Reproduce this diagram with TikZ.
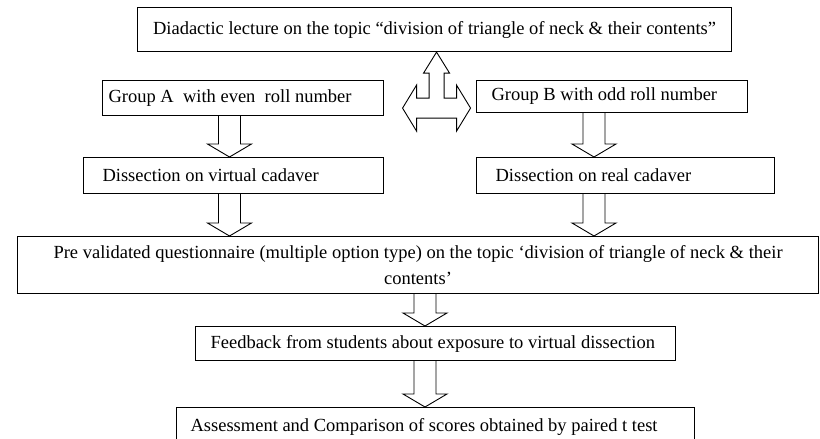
\documentclass[tikz,border=0pt]{standalone}
\usepackage{fontspec}
\setmainfont{Liberation Serif}
\usetikzlibrary{calc}

% hollow block arrow straight down: #1 = column, #2 = from node, #3 = to node
\newcommand{\hollowarrow}[3]{%
  \coordinate (s) at (#1 |- #2.south);
  \coordinate (t) at (#1 |- #3.north);
  \draw[blockarrow] ($(s)+(-11,0)$) -- ($(t)+(-11,-13)$) -- ($(t)+(-22,-13)$) -- (t)
    -- ($(t)+(22,-13)$) -- ($(t)+(11,-13)$) -- ($(s)+(11,0)$);
}

\begin{document}
\begin{tikzpicture}[x=1pt, y=-1pt,
    box/.style={draw, line width=1.1pt, inner ysep=0pt, anchor=north west,
      font=\fontsize{18.5}{26}\selectfont},
    blockarrow/.style={draw, line width=0.9pt, line join=miter}]
    \useasboundingbox (0,0) rectangle (820,439);

    % Draw nodes
    \node[box, minimum width=594pt, minimum height=44pt] (lecture) at (137,7) {Diadactic lecture on the topic “division of triangle of neck \& their contents”};
    \node[box, inner xsep=6pt, minimum height=35pt] (grpA) at (102,80) {\makebox[269pt][l]{Group A\ \ with even\ \ roll number}};
    \node[box, inner xsep=15pt, minimum height=32pt] (grpB) at (476,80) {\makebox[241pt][l]{Group B with odd roll number}};
    \node[box, inner xsep=19pt, minimum height=36pt] (virt) at (83,157) {\makebox[262pt][l]{Dissection on virtual cadaver}};
    \node[box, inner xsep=19pt, minimum height=36pt] (real) at (476,157) {\makebox[260pt][l]{Dissection on real cadaver}};
    \node[box, minimum width=801pt, minimum height=57pt, align=center] (quest) at (17,236) {Pre validated questionnaire (multiple option type) on the topic ‘division of triangle of neck \& their\\contents’};
    \node[box, inner xsep=15pt, minimum height=34pt] (feedback) at (195,326) {\makebox[450pt][l]{Feedback from students about exposure to virtual dissection}};
    \node[box, inner xsep=14pt, minimum height=38pt] (assess) at (176,407) {\makebox[490pt][l]{Assessment and Comparison of scores obtained by paired t test}};

    \coordinate (colA) at (229.5,0);
    \coordinate (colB) at (594,0);
    \coordinate (colC) at (425,0);

    % Draw arrows
    \hollowarrow{colA}{grpA}{virt}
    \hollowarrow{colA}{virt}{quest}
    \hollowarrow{colB}{grpB}{real}
    \hollowarrow{colB}{real}{quest}
    \hollowarrow{colC}{quest}{feedback}
    \hollowarrow{colC}{feedback}{assess}

    % three-way arrow between the groups and the lecture
    \draw[blockarrow] ($(lecture.south)+(2,0)$) -- ++(13,21) -- ++(-5.5,0) -- ++(0,25) -- ++(12.5,0) -- ++(0,-13)
      -- ++(14,23) -- ++(-14,23) -- ++(0,-13) -- ++(-40,0) -- ++(0,13) -- ++(-14,-23) -- ++(14,-23)
      -- ++(0,13) -- ++(12.5,0) -- ++(0,-25) -- ++(-5.5,0) -- cycle;
\end{tikzpicture}
\end{document}
